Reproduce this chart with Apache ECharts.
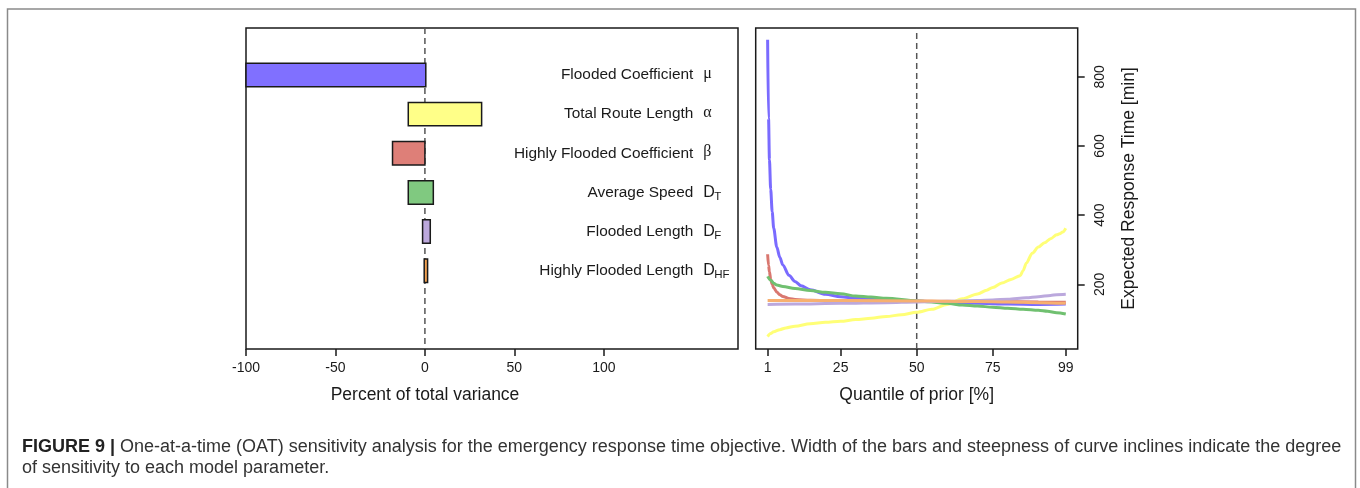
<!DOCTYPE html>
<html>
<head>
<meta charset="utf-8">
<script src="https://cdn.jsdelivr.net/npm/echarts@6/dist/echarts.min.js"></script>
<style>
html,body{margin:0;padding:0;background:#fff;}
#chart{width:1360px;height:488px;}
</style>
</head>
<body>
<div id="chart"></div>
<script>
// ---- data ----
const categories = ['Flooded Coefficient', 'Total Route Length', 'Highly Flooded Coefficient', 'Average Speed', 'Flooded Length', 'Highly Flooded Length'];
const symbols = ['\u03BC', '\u03B1', '\u03B2', 'D', 'D', 'D'];
const subscripts = ['', '', '', 'T', 'F', 'HF'];
const barLow = [-100, -9.3, -18.1, -9.3, -1.3, -0.4];
const barHigh = [0.5, 31.7, 0, 4.7, 3.0, 1.5];
const leftTicks = [-100, -50, 0, 50, 100];
const rightXTicks = [1, 25, 50, 75, 99];
const rightYTicks = [200, 400, 600, 800];

const muX = [1, 1.3, 1.6, 2, 2.5, 3, 4, 5, 6, 8, 10, 12, 15, 20, 25, 30, 40, 50, 60, 70, 80, 90, 99];
const muY = [907, 680, 560, 475, 410, 362, 308, 278, 256, 226, 208, 196, 184, 171, 164, 160, 155, 152, 148, 145, 143, 142, 143];
const alphaX = [1, 2, 3, 5, 7, 10, 15, 20, 25, 30, 35, 40, 45, 50, 55, 60, 65, 70, 73, 75, 78, 81, 84, 85, 86, 88, 90, 92, 94, 96, 97, 98, 99];
const alphaY = [49, 58, 63, 69, 74, 79, 86, 90, 93, 98, 102, 107, 112, 119, 128, 142, 158, 172, 183, 191, 204, 214, 225, 240, 261, 290, 308, 320, 332, 343, 346, 351, 362];
const betaX = [1, 1.3, 1.6, 2, 2.5, 3, 4, 5, 6, 8, 10, 15, 25, 50, 75, 90, 99];
const betaY = [287, 255, 236, 215, 200, 190, 178, 170, 165, 159, 156, 154, 152, 151, 150, 149, 148];
const dtX = [1, 2, 3, 4, 6, 10, 15, 20, 25, 30, 35, 40, 50, 60, 65, 70, 75, 80, 85, 90, 93, 96, 99];
const dtY = [223, 212, 203, 198, 194, 188, 182, 177, 173, 166, 163, 160, 152, 145, 140, 137, 134, 131, 128, 125, 122, 118, 114];
const dfX = [1, 10, 25, 40, 50, 60, 70, 75, 80, 86, 90, 94, 96, 99];
const dfY = [142, 143, 145, 147, 149, 151, 153, 155, 157, 161, 164, 168, 170, 171];
const dhfX = [1, 25, 50, 60, 70, 80, 90, 99];
const dhfY = [153, 153, 152, 151, 150, 149, 147, 145];

// ---- styles ----
const barColors = ['#8070ff', '#ffff88', '#de7f78', '#80c980', '#bca8dc', '#f0a050'];
const lineColors = ['#7a6bff', '#ffff77', '#d9776f', '#70c070', '#bba8dd', '#f7b070'];
const FONT = "'Liberation Sans', Arial, sans-serif";
const GREEK = "'Liberation Serif', 'DejaVu Serif', serif";
const INK = '#1a1a1a';

const pairs = (xs, ys) => xs.map((x, k) => [x, ys[k]]);
const barData = categories.map((c, i) => [barLow[i], barHigh[i], i]);

function renderBar(params, api) {
  const i = api.value(2);
  const p0 = api.coord([api.value(0), i]);
  const p1 = api.coord([api.value(1), i]);
  const h = api.size([0, 0.6])[1];
  const nameP = api.coord([150, i]);
  const symP = api.coord([155.6, i]);
  const children = [
    { type: 'rect', shape: { x: p0[0], y: p0[1] - h / 2, width: p1[0] - p0[0], height: h },
      style: { fill: barColors[i], stroke: INK, lineWidth: 1.5 } },
    { type: 'text', x: nameP[0], y: nameP[1],
      style: { text: categories[i], align: 'right', verticalAlign: 'middle', font: '15.4px ' + FONT, fill: INK } }
  ];
  if (subscripts[i] === '') {
    children.push({ type: 'text', x: symP[0], y: symP[1] - 1,
      style: { text: symbols[i], align: 'left', verticalAlign: 'middle', font: '16px ' + GREEK, fill: INK } });
  } else {
    children.push({ type: 'text', x: symP[0], y: symP[1],
      style: { text: symbols[i], align: 'left', verticalAlign: 'middle', font: '16px ' + FONT, fill: INK } });
    children.push({ type: 'text', x: symP[0] + 11, y: symP[1] + 4,
      style: { text: subscripts[i], align: 'left', verticalAlign: 'middle', font: '11.5px ' + FONT, fill: INK } });
  }
  return { type: 'group', children: children };
}

const curveNames = ['mu', 'alpha', 'beta', 'DT', 'DF', 'DHF'];
const curveData = [pairs(muX, muY), pairs(alphaX, alphaY), pairs(betaX, betaY), pairs(dtX, dtY), pairs(dfX, dfY), pairs(dhfX, dhfY)];

const chart = echarts.init(document.getElementById('chart'), null, { renderer: 'canvas' });

const tickStyle = { show: true, length: 7, inside: false, lineStyle: { color: INK, width: 1.5 } };
const noLine = { show: false, onZero: false };

const option = {
  animation: false,
  backgroundColor: '#ffffff',
  grid: [
    { left: 246, top: 28, width: 492, height: 321, show: true, borderColor: INK, borderWidth: 1.5, backgroundColor: 'transparent', containLabel: false },
    { left: 755.7, top: 28, width: 322, height: 321, show: true, borderColor: INK, borderWidth: 1.5, backgroundColor: 'transparent', containLabel: false }
  ],
  xAxis: [
    { type: 'value', gridIndex: 0, min: -100, max: 175, position: 'bottom',
      splitLine: { show: false }, axisLine: noLine,
      axisTick: Object.assign({ customValues: leftTicks }, tickStyle),
      axisLabel: { customValues: leftTicks, fontSize: 14, fontFamily: FONT, color: INK, margin: 12 } },
    { type: 'value', gridIndex: 1, min: -2.92, max: 102.92, position: 'bottom',
      splitLine: { show: false }, axisLine: noLine,
      axisTick: Object.assign({ customValues: rightXTicks }, tickStyle),
      axisLabel: { customValues: rightXTicks, fontSize: 14, fontFamily: FONT, color: INK, margin: 12 },
      name: 'Quantile of prior [%]', nameLocation: 'middle', nameGap: 37,
      nameTextStyle: { fontSize: 17.5, fontFamily: FONT, color: INK } }
  ],
  yAxis: [
    { type: 'value', gridIndex: 0, min: -1.2, max: 7.0, inverse: true, show: false, axisLine: noLine },
    { type: 'value', gridIndex: 1, min: 13, max: 941, position: 'right',
      splitLine: { show: false }, axisLine: noLine,
      axisTick: Object.assign({ customValues: rightYTicks }, tickStyle),
      axisLabel: { customValues: rightYTicks, rotate: 90, fontSize: 14, fontFamily: FONT, color: INK, margin: 15 },
      name: 'Expected Response Time [min]', nameLocation: 'middle', nameRotate: 90, nameGap: 42,
      nameTextStyle: { fontSize: 17.5, fontFamily: FONT, color: INK } }
  ],
  series: [
    { type: 'line', xAxisIndex: 0, yAxisIndex: 0, data: [[0, -1.2], [0, 7.0]], symbol: 'none', silent: true,
      lineStyle: { type: [6, 4], color: '#555', width: 1.5 }, z: 1 },
    { type: 'custom', xAxisIndex: 0, yAxisIndex: 0, data: barData, renderItem: renderBar,
      encode: { x: [0, 1], y: 2 }, clip: false, z: 2 },
    { type: 'line', xAxisIndex: 1, yAxisIndex: 1, data: [[50, 13], [50, 941]], symbol: 'none', silent: true,
      lineStyle: { type: [6, 4], color: '#555', width: 1.5 }, z: 1 }
  ].concat(curveData.map((d, k) => ({
    type: 'line', name: curveNames[k], xAxisIndex: 1, yAxisIndex: 1, data: d,
    showSymbol: false, symbol: 'none', smooth: 0.3, smoothMonotone: 'x', clip: true,
    lineStyle: { color: lineColors[k], width: 3 }, z: 3 + k
  }))),
  graphic: [
    { type: 'rect', shape: { x: 7.5, y: 9, width: 1348, height: 500 },
      style: { fill: 'none', stroke: '#8a8a8a', lineWidth: 1.5 }, silent: true },
    { type: 'text', x: 425, y: 395,
      style: { text: 'Percent of total variance', align: 'center', verticalAlign: 'middle', font: '17.5px ' + FONT, fill: INK } },
    { type: 'text', x: 22, y: 447,
      style: { text: '{b|FIGURE 9 |}{r| One-at-a-time (OAT) sensitivity analysis for the emergency response time objective. Width of the bars and steepness of curve inclines indicate the degree}',
        align: 'left', verticalAlign: 'middle',
        rich: { b: { fontWeight: 'bold', fontSize: 18, fontFamily: FONT, fill: '#222' },
                r: { fontSize: 18, fontFamily: FONT, fill: '#333' } } } },
    { type: 'text', x: 22, y: 468,
      style: { text: 'of sensitivity to each model parameter.', align: 'left', verticalAlign: 'middle',
        font: '18px ' + FONT, fill: '#333' } }
  ]
};
chart.setOption(option);
</script>
</body>
</html>
